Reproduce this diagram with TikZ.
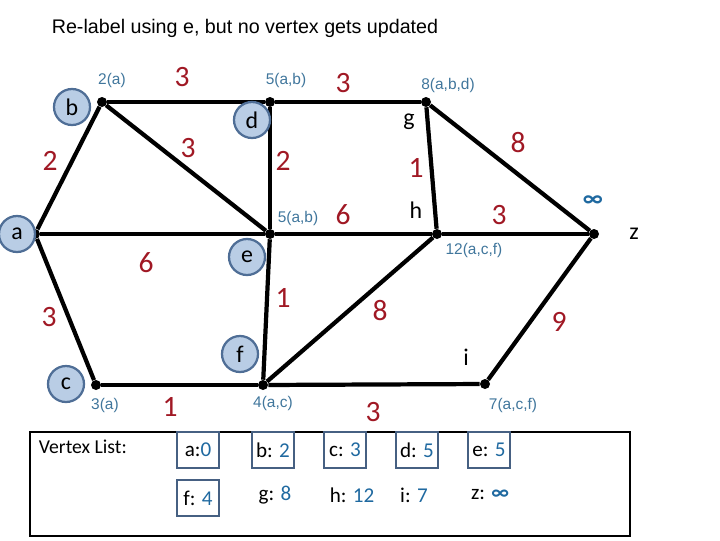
\documentclass[tikz,border=0pt]{standalone}
\usepackage{fontspec}
\setmainfont{Carlito}
\newfontfamily\arialfont{Liberation Sans}
\usetikzlibrary{positioning}
\definecolor{cWeight}{RGB}{160,24,36}
\definecolor{cPath}{RGB}{64,118,156}
\definecolor{cFill}{RGB}{185,205,229}
\definecolor{cRing}{RGB}{79,110,150}
\definecolor{cBox}{RGB}{70,96,130}
\definecolor{cValue}{RGB}{31,105,160}
\tikzset{
	vtx/.style   ={circle, fill=black, minimum size=0.25cm, inner sep=0pt},
	vname/.style ={circle, draw=cRing, line width=1.6pt, fill=cFill, minimum size=0.9cm, inner sep=0pt, font=\fontsize{17}{17}\selectfont},
	plain/.style ={font=\fontsize{17}{17}\selectfont},
	edge/.style  ={line width=3pt},
	wt/.style    ={text=cWeight, font=\fontsize{21}{21}\selectfont},
	dist/.style  ={text=cPath, font=\arialfont\fontsize{11}{11}\selectfont},
	entry/.style ={font=\fontsize{15}{15}\selectfont},
	done/.style  ={entry, draw=cBox, line width=1.6pt, minimum width=1.05cm, minimum height=0.9cm, inner sep=1pt},
}
\newcommand{\val}[1]{\textcolor{cValue}{#1}}

\begin{document}
\begin{tikzpicture}[x=0.025cm, y=-0.025cm]
	\useasboundingbox (0,0) rectangle (720,540);
	\node[font=\arialfont\fontsize{14}{14}\selectfont] (title) at (245,28) {Re-label using e, but no vertex gets updated};
	% vertices
	\node[vtx] (a) at (35,234) {};
	\node[vtx] (b) at (102,102) {};
	\node[vtx] (d) at (270,102) {};
	\node[vtx] (g) at (426,102) {};
	\node[vtx] (e) at (270,234) {};
	\node[vtx] (h) at (437,234) {};
	\node[vtx] (z) at (594,234) {};
	\node[vtx] (c) at (96,385) {};
	\node[vtx] (f) at (263,385) {};
	\node[vtx] (i) at (485,384) {};
	% edges
	\draw[edge] (a) -- (b);
	\draw[edge] (b) -- (d);
	\draw[edge] (b) -- (e);
	\draw[edge] (d) -- (g);
	\draw[edge] (d) -- (e);
	\draw[edge] (a) -- (e);
	\draw[edge] (e) -- (h);
	\draw[edge] (h) -- (z);
	\draw[edge] (g) -- (h);
	\draw[edge] (g) -- (z);
	\draw[edge] (a) -- (c);
	\draw[edge] (c) -- (f);
	\draw[edge] (e) -- (f);
	\draw[edge] (f) -- (h);
	\draw[edge] (f) -- (i);
	\draw[edge] (i) -- (z);
	% vertex names
	\node[vname] (na) at (17,234) {a};
	\node[vname] (nb) at (72,107) {b};
	\node[vname] (nd) at (252,120) {d};
	\node[vname] (ne) at (247,257) {e};
	\node[vname] (nf) at (240,354) {f};
	\node[vname] (nc) at (66,384) {c};
	\node[plain] (ng) at (409,122) {g};
	\node[plain] (nh) at (416,210) {h};
	\node[plain] (ni) at (466,357) {i};
	\node[plain] (nz) at (634,234) {z};
	% weights
	\node[wt] (wbd) at (182,77) {3};
	\node[wt] (wdg) at (343,83) {3};
	\node[wt] (wab) at (50,161) {2};
	\node[wt] (wbe) at (188,148) {3};
	\node[wt] (wde) at (283,161) {2};
	\node[wt] (wgh) at (416,168) {1};
	\node[wt] (wgz) at (518,143) {8};
	\node[wt] (weh) at (343,215) {6};
	\node[wt] (whz) at (499,215) {3};
	\node[wt] (wae) at (146,263) {6};
	\node[wt] (wef) at (283,298) {1};
	\node[wt] (wfh) at (380,311) {8};
	\node[wt] (wac) at (49,317) {3};
	\node[wt] (wiz) at (559,322) {9};
	\node[wt] (wcf) at (170,407) {1};
	\node[wt] (wfi) at (373,412) {3};
	% tentative distances
	\node[dist] (db) at (112,80) {2(a)};
	\node[dist] (dd) at (286,80) {5(a,b)};
	\node[dist] (dg) at (448,85) {8(a,b,d)};
	\node[dist] (de) at (298,218) {5(a,b)};
	\node[dist] (dh) at (474,250) {12(a,c,f)};
	\node[dist] (dc) at (105,405) {3(a)};
	\node[dist] (df) at (273,403) {4(a,c)};
	\node[dist] (di) at (513,405) {7(a,c,f)};
	\node[text=cValue, font=\fontsize{17}{17}\selectfont\bfseries] (dz) at (593,201) {∞};
	% vertex list
	\draw[line width=1.4pt] (30,432) rectangle (630,536);
	\node[entry, font=\fontsize{14}{14}\selectfont, anchor=west] (vl) at (34,447) {Vertex List:};
	\node[done] (la) at (198,450) {a:\val{0}};
	\node[done] (lb) at (273,450) {b: \val{2}};
	\node[done] (lc) at (345,450) {c: \val{3}};
	\node[done] (ld) at (417,450) {d: \val{5}};
	\node[done] (le) at (489,450) {e: \val{5}};
	\node[done] (lf) at (198,498) {f: \val{4}};
	\node[entry] (lg) at (275,495) {g: \val{8}};
	\node[entry] (lh) at (352,495) {h: \val{12}};
	\node[entry] (li) at (414,495) {i: \val{7}};
	\node[entry] (lz) at (490,495) {z: \val{\textbf{∞}}};
\end{tikzpicture}
\end{document}
